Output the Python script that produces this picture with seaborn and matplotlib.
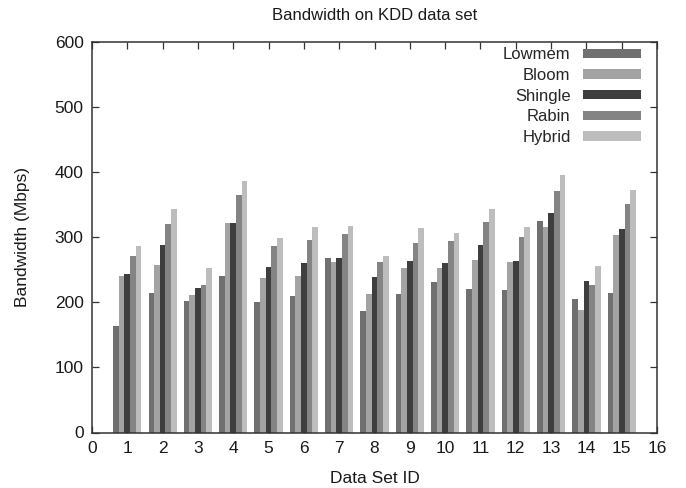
import matplotlib
matplotlib.use("Agg")
import matplotlib.pyplot as plt
import seaborn as sns
import pandas as pd
from matplotlib.patches import Patch

dataset_ids = list(range(1, 16))
methods = ["Lowmem", "Bloom", "Shingle", "Rabin", "Hybrid"]

lowmem = [163, 214, 202, 240, 201, 210, 268, 187, 213, 231, 221, 219, 325, 205, 214]
bloom = [241, 257, 212, 322, 237, 240, 262, 213, 253, 253, 265, 262, 316, 188, 303]
shingle = [243, 288, 222, 322, 254, 261, 268, 239, 263, 260, 288, 263, 337, 233, 312]
rabin = [271, 320, 227, 365, 286, 296, 305, 262, 291, 294, 323, 300, 371, 227, 351]
hybrid = [286, 343, 253, 386, 299, 316, 317, 271, 314, 307, 343, 316, 395, 256, 373]

colors = ["#707070", "#a3a3a3", "#3e3e3e", "#848484", "#bdbdbd"]

series = dict(zip(methods, [lowmem, bloom, shingle, rabin, hybrid]))
df = pd.DataFrame(
    [(i, m, v) for m in methods for i, v in zip(dataset_ids, series[m])],
    columns=["id", "method", "bw"],
)

sns.set_theme(style="white")
plt.rcParams["font.family"] = ["Liberation Sans", "DejaVu Sans"]

fig = plt.figure(figsize=(6.86, 4.88), dpi=100)
ax = fig.add_axes([92 / 686, 1 - 432.5 / 488, (657 - 92) / 686, (432.5 - 42) / 488])

sns.barplot(
    data=df, x="id", y="bw", hue="method", hue_order=methods,
    palette=colors, native_scale=True, width=0.8, dodge=True,
    saturation=1, linewidth=0, ax=ax,
)
ax.get_legend().remove()

ax.set_xlim(0, 16)
ax.set_ylim(0, 600)
ax.set_xticks(range(0, 17))
ax.set_yticks(range(0, 601, 100))
ax.tick_params(axis="both", direction="in", length=5, width=0.9, color="#333333",
               labelsize=12.5, labelcolor="#1a1a1a", top=True, right=True,
               bottom=True, left=True, pad=6)
for s in ax.spines.values():
    s.set_color("#333333")
    s.set_linewidth(1.1)

ax.set_xlabel("Data Set ID", fontsize=12.5, color="#1a1a1a", labelpad=11)
ax.set_ylabel("Bandwidth (Mbps)", fontsize=12.5, color="#1a1a1a", labelpad=18)
ax.set_title("Bandwidth on KDD data set", fontsize=12, color="#1a1a1a", pad=16)

handles = [Patch(facecolor=c, edgecolor="none") for c in colors]
ax.legend(handles, methods, loc="upper right", bbox_to_anchor=(0.99, 1.012),
          frameon=False, markerfirst=False, fontsize=12, handlelength=3.5,
          handleheight=0.5, labelspacing=0.34, handletextpad=0.75,
          borderaxespad=0.2)

fig.savefig("out.png", dpi=100)
